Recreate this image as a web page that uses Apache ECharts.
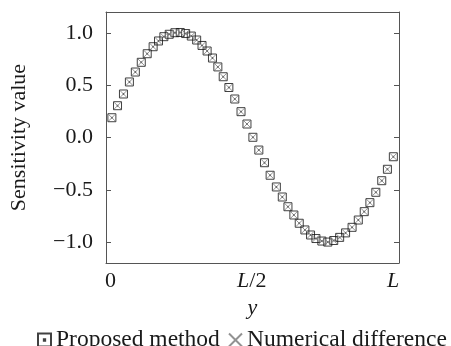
<!DOCTYPE html>
<html>
<head>
<meta charset="utf-8">
<script src="https://cdn.jsdelivr.net/npm/echarts@6/dist/echarts.min.js"></script>
<style>html,body{margin:0;padding:0;background:#fff;}#c{width:451px;height:346px;}</style>
</head>
<body>
<div id="c"></div>
<script>
// position along the domain, as a fraction of L
const yPos = [0.005,0.025,0.046,0.067,0.088,0.109,0.130,0.151,0.170,0.189,0.208,0.228,0.247,0.266,0.286,0.305,0.324,0.342,0.361,0.380,0.399,0.419,0.440,0.462,0.483,0.504,0.525,0.545,0.565,0.587,0.608,0.628,0.649,0.668,0.688,0.708,0.727,0.748,0.769,0.790,0.811,0.832,0.855,0.877,0.898,0.918,0.939,0.960,0.980,1.001];
// sensitivity values, proposed method
const proposed = [0.189,0.304,0.416,0.531,0.626,0.719,0.801,0.868,0.923,0.964,0.987,1.002,1.004,0.994,0.970,0.932,0.880,0.827,0.760,0.675,0.581,0.478,0.368,0.247,0.129,0.002,-0.120,-0.241,-0.361,-0.473,-0.569,-0.662,-0.741,-0.820,-0.884,-0.932,-0.966,-0.990,-1.000,-0.985,-0.955,-0.912,-0.859,-0.789,-0.709,-0.623,-0.524,-0.413,-0.304,-0.184];
// sensitivity values, numerical difference
const numerical = [0.189,0.304,0.416,0.531,0.626,0.719,0.801,0.868,0.923,0.964,0.987,1.002,1.004,0.994,0.970,0.932,0.880,0.827,0.760,0.675,0.581,0.478,0.368,0.247,0.129,0.002,-0.120,-0.241,-0.361,-0.473,-0.569,-0.662,-0.741,-0.820,-0.884,-0.932,-0.966,-0.990,-1.000,-0.985,-0.955,-0.912,-0.859,-0.789,-0.709,-0.623,-0.524,-0.413,-0.304,-0.184];
const xTickValues = [0, 0.5, 1];
const xTickLabels = ['0', '{i|L}/2', '{i|L}'];
const yTickValues = [-1, -0.5, 0, 0.5, 1];
const yTickLabels = ['\u22121.0', '\u22120.5', '0.0', '0.5', '1.0'];

const FONT = 'Liberation Serif';
const TXT = '#1a1a1a';
const AX = '#555';

const chart = echarts.init(document.getElementById('c'), null, {renderer: 'canvas'});
const pts = arr => arr.map((v, i) => [yPos[i], v]);

const legendBase = {
  top: 328, padding: 0, width: 300,
  itemWidth: 13, itemHeight: 13,
  textStyle: {fontFamily: FONT, fontSize: 23.5, color: TXT}
};

chart.setOption({
  animation: false,
  backgroundColor: '#fff',
  grid: {left: 103, right: 52, top: 12, bottom: 83},
  legend: [
    Object.assign({}, legendBase, {left: 37, data: ['Proposed method']}),
    Object.assign({}, legendBase, {left: 228, data: ['Numerical difference']})
  ],
  xAxis: [{
    type: 'value', min: -0.0158, max: 1.021, position: 'bottom',
    name: 'y', nameLocation: 'middle', nameGap: 34,
    nameTextStyle: {fontFamily: FONT, fontSize: 22, fontStyle: 'italic', color: TXT},
    axisLine: {show: true, onZero: false, lineStyle: {color: AX, width: 1}},
    axisTick: {show: false},
    splitLine: {show: false},
    axisLabel: {
      customValues: xTickValues, margin: 7,
      fontFamily: FONT, fontSize: 22, color: TXT,
      formatter: v => xTickLabels[xTickValues.indexOf(v)] || '',
      rich: {i: {fontFamily: FONT, fontSize: 22, fontStyle: 'italic', color: TXT}}
    }
  }, {
    type: 'value', min: -0.0158, max: 1.021, position: 'top',
    axisLine: {show: true, onZero: false, lineStyle: {color: AX, width: 1}},
    axisTick: {show: false}, axisLabel: {show: false}, splitLine: {show: false}
  }],
  yAxis: [{
    type: 'value', min: -1.2, max: 1.2, position: 'left',
    name: 'Sensitivity value', nameLocation: 'middle', nameGap: 76, nameRotate: 90,
    nameTextStyle: {fontFamily: FONT, fontSize: 22, color: TXT},
    axisLine: {show: true, onZero: false, lineStyle: {color: AX, width: 1}},
    axisTick: {show: true, inside: true, length: 5, customValues: yTickValues, lineStyle: {color: AX}},
    splitLine: {show: false},
    axisLabel: {
      customValues: yTickValues, margin: 13,
      fontFamily: FONT, fontSize: 22, color: TXT,
      formatter: v => yTickLabels[yTickValues.indexOf(v)] || ''
    }
  }, {
    type: 'value', min: -1.2, max: 1.2, position: 'right',
    axisLine: {show: true, onZero: false, lineStyle: {color: AX, width: 1}},
    axisTick: {show: true, inside: true, length: 5, customValues: yTickValues, lineStyle: {color: AX}},
    axisLabel: {show: false}, splitLine: {show: false}
  }],
  series: [{
    name: 'Proposed method', type: 'scatter', xAxisIndex: 0, yAxisIndex: 0,
    symbol: 'path://M0,0H10V10H0Z M4.5,4.5H5.5V5.5H4.5Z', symbolSize: 8,
    itemStyle: {color: 'rgba(0,0,0,0)', borderColor: '#111', borderWidth: 1},
    data: pts(proposed), z: 3
  }, {
    name: 'Numerical difference', type: 'scatter', xAxisIndex: 0, yAxisIndex: 0,
    symbol: 'path://M0,0L10,10M10,0L0,10', symbolSize: 7,
    itemStyle: {color: 'rgba(0,0,0,0)', borderColor: '#777', borderWidth: 1},
    data: pts(numerical), z: 4
  }]
});
</script>
</body>
</html>
